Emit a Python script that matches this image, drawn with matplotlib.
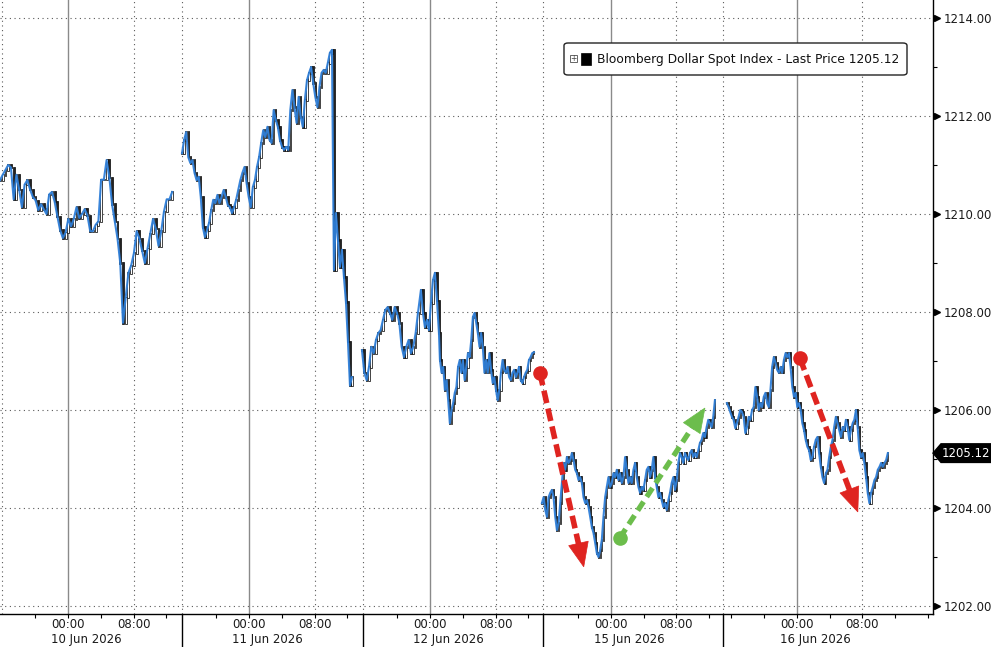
import numpy as np
import matplotlib
matplotlib.use("Agg")
import matplotlib.pyplot as plt
from matplotlib.patches import FancyBboxPatch, Rectangle, Polygon

plt.rcParams['font.family'] = ['DejaVu Sans']

# ---------------- data ----------------
# x axis: chart time in hours (trading time, gaps removed)
day_labels = ["10 Jun 2026", "11 Jun 2026", "12 Jun 2026", "15 Jun 2026", "16 Jun 2026"]
day_bounds = [0.2, 22.2, 44.27, 66.22, 88.17, 113.8]       # session separators
midnights = [8.29, 30.37, 52.44, 74.51, 97.2]              # 00:00 of each day

# price pieces: (start hour, end hour, prices)  -- equally spaced bars within a piece
p10 = [1210.69, 1210.80, 1210.90, 1211.00, 1210.95, 1210.30, 1210.80, 1210.50, 1210.14, 1210.60,
       1210.69, 1210.50, 1210.35, 1210.28, 1210.08, 1210.20, 1210.10, 1210.00, 1210.40, 1210.45,
       1210.25, 1209.95, 1209.67, 1209.51, 1209.62, 1209.90, 1209.75, 1209.90, 1210.14, 1209.92,
       1210.00, 1210.10, 1209.97, 1209.65, 1209.65, 1209.78, 1209.85, 1210.70, 1210.70, 1211.10,
       1210.75, 1210.20, 1209.85, 1209.50, 1209.00, 1207.78, 1208.30, 1208.80, 1208.95, 1209.20,
       1209.65, 1209.50, 1209.25, 1209.00, 1209.30, 1209.60, 1209.90, 1209.70, 1209.35, 1209.65,
       1210.05, 1210.30, 1210.30, 1210.45]
p11a = [1211.24, 1211.51, 1211.67, 1211.16, 1211.04, 1211.10, 1210.84, 1210.69, 1210.76, 1210.35,
        1209.73, 1209.53, 1209.67, 1209.82, 1210.08, 1210.29, 1210.22, 1210.39, 1210.22, 1210.35,
        1210.49, 1210.35, 1210.18, 1210.14, 1210.02, 1210.14, 1210.29, 1210.49, 1210.69, 1210.84,
        1210.96, 1210.63, 1210.35, 1210.14, 1210.55, 1210.69, 1210.96, 1211.16, 1211.45, 1211.71,
        1211.57, 1211.78, 1211.51, 1211.45, 1212.12, 1211.92, 1211.78, 1211.51, 1211.37, 1211.31,
        1211.37, 1211.31, 1212.12, 1212.53, 1212.18, 1211.86, 1212.39, 1211.98, 1211.78, 1212.33,
        1212.73, 1212.88, 1213.00, 1212.67, 1212.39, 1212.18, 1212.59, 1212.88, 1212.94, 1212.88,
        1213.08, 1213.29, 1213.35]
p11b = [1208.86, 1210.02, 1209.47, 1208.92, 1209.27, 1208.71, 1208.20, 1207.40, 1206.50, 1206.67]
p12a = [1207.22, 1206.76, 1206.61, 1206.88, 1207.29, 1207.16, 1207.43, 1207.57, 1207.63, 1207.84,
        1208.04, 1208.10, 1207.98, 1207.84, 1208.10, 1207.98, 1207.78, 1207.29, 1207.08, 1207.29,
        1207.43, 1207.16, 1207.29, 1207.57, 1207.98]
p12b = [1208.45, 1207.98, 1207.69, 1207.84, 1207.63, 1208.18, 1208.65, 1208.80, 1208.24, 1207.57]
p12c = [1207.02, 1206.76, 1206.88, 1206.41, 1206.61, 1206.20, 1205.73, 1206.00, 1206.14, 1206.35,
        1206.47, 1206.88, 1207.02, 1206.76, 1207.02, 1206.61, 1206.88, 1207.16, 1207.08, 1207.43,
        1207.90, 1207.98, 1207.78, 1207.57, 1207.29, 1207.57, 1207.29, 1206.76, 1207.02, 1206.76,
        1207.16, 1206.82, 1206.55, 1206.67, 1206.41, 1206.20, 1206.41, 1206.76, 1207.02, 1206.82,
        1206.76, 1206.88, 1206.67, 1206.61, 1206.76, 1206.82, 1206.67, 1206.76, 1206.88, 1206.61,
        1206.55, 1206.67, 1206.76, 1206.82, 1207.02, 1207.08, 1207.16, 1207.18]
p15 = [1204.10, 1204.22, 1203.96, 1203.82, 1204.22, 1204.31, 1204.37, 1204.22, 1203.82, 1203.55,
       1203.69, 1204.10, 1204.51, 1204.92, 1204.78, 1205.04, 1204.92, 1204.98, 1205.12, 1204.98,
       1204.78, 1204.71, 1204.57, 1204.63, 1204.51, 1204.22, 1204.10, 1204.16, 1204.02, 1203.82,
       1203.61, 1203.49, 1203.29, 1203.08, 1203.00, 1203.14, 1203.35, 1203.82, 1204.22, 1204.43,
       1204.63, 1204.43, 1204.51, 1204.71, 1204.63, 1204.78, 1204.57, 1204.71, 1204.51, 1204.63,
       1205.04, 1204.78, 1204.51, 1204.63, 1204.51, 1204.78, 1204.92, 1204.63, 1204.43, 1204.31,
       1204.43, 1204.37, 1204.57, 1204.78, 1204.84, 1204.63, 1204.78, 1205.04, 1204.63, 1204.43,
       1204.22, 1204.31, 1204.16, 1204.02, 1204.10, 1203.96, 1204.16, 1204.31, 1204.51, 1204.63,
       1204.37, 1204.57, 1204.92, 1205.12, 1205.04, 1204.92, 1205.12, 1205.04, 1204.98, 1205.12,
       1205.18, 1205.04, 1205.12, 1205.04, 1205.18, 1205.33, 1205.39, 1205.53, 1205.45, 1205.65,
       1205.80, 1205.73, 1205.65, 1205.86, 1206.20]
p16 = [1206.14, 1206.06, 1205.96, 1205.86, 1205.80, 1205.63, 1205.73, 1205.86, 1206.00, 1205.96,
       1205.86, 1205.53, 1205.65, 1205.86, 1205.80, 1206.00, 1206.06, 1206.47, 1206.27, 1206.00,
       1206.14, 1206.06, 1206.27, 1206.35, 1206.14, 1206.06, 1206.41, 1206.88, 1207.08, 1206.96,
       1206.82, 1206.76, 1206.88, 1206.76, 1207.02, 1207.16, 1207.08, 1207.16, 1206.88, 1206.47,
       1206.27, 1206.35, 1206.06, 1206.14, 1206.00, 1205.73, 1205.59, 1205.39, 1205.25, 1205.18,
       1204.98, 1205.04, 1205.25, 1205.39, 1205.45, 1205.12, 1204.84, 1204.63, 1204.51, 1204.71,
       1204.78, 1205.04, 1205.25, 1205.39, 1205.65, 1205.86, 1205.73, 1205.59, 1205.45, 1205.65,
       1205.59, 1205.80, 1205.65, 1205.39, 1205.59, 1205.73, 1205.80, 1206.00, 1205.65, 1205.18,
       1205.04, 1205.12, 1204.92, 1204.63, 1204.31, 1204.10, 1204.31, 1204.43, 1204.57, 1204.63,
       1204.78, 1204.84, 1204.92, 1204.84, 1204.92, 1204.98, 1205.12]

sessions = [
    [(0.0, 21.0, p10)],
    [(22.20, 40.49, p11a), (40.73, 42.93, p11b)],
    [(44.15, 50.98, p12a), (51.34, 53.54, p12b), (53.66, 65.12, p12c)],
    [(66.10, 87.20, p15)],
    [(88.66, 108.29, p16)],
]
last_price = 1205.12
y_ticks = [1202, 1204, 1206, 1208, 1210, 1212, 1214]

# annotation arrows: (start, tip) in (hour, price)
red1 = ((65.85, 1206.76), (71.2, 1202.80))
green1 = ((75.6, 1203.39), (85.98, 1206.04))
red2 = ((97.56, 1207.06), (104.63, 1203.92))

# ---------------- figure ----------------
W, H = 991, 647
fig = plt.figure(figsize=(W / 100, H / 100), dpi=100)
ax = fig.add_axes([0, 33 / H, 933 / W, 614 / H])
ax.set_xlim(0, 113.8)
ax.set_ylim(1201.837, 1214.367)

BLUE = '#2f7fd8'
grid_kw = dict(color='#5a5a5a', lw=0.8, ls=(0, (1, 3.2)), zorder=1)
for y in y_ticks:
    ax.axhline(y, **grid_kw)
for m in midnights:
    ax.axvline(m, color='#8a8a8a', lw=1.0, zorder=1)
    ax.axvline(m + 8, **grid_kw)
for b in day_bounds[:-1]:
    ax.axvline(b, **grid_kw)

# price series: candles derived from consecutive bars + blue line
for pieces in sessions:
    ts, ps, dts = [], [], []
    for (t0, t1, pr) in pieces:
        t = np.linspace(t0, t1, len(pr))
        ts.append(t)
        ps.append(np.asarray(pr, float))
        dts.append(np.full(len(pr), (t1 - t0) / (len(pr) - 1)))
    t = np.concatenate(ts)
    p = np.concatenate(ps)
    dt = np.concatenate(dts)
    o = np.r_[p[0], p[:-1]]
    c = p
    up = c >= o
    w = dt * 0.7
    ax.bar(t[up], (c - o)[up] + 0.03, bottom=o[up] - 0.015, width=w[up], color='white',
           edgecolor='#111111', linewidth=0.55, zorder=3)
    ax.bar(t[~up], (o - c)[~up] + 0.03, bottom=c[~up] - 0.015, width=w[~up], color='#222222',
           edgecolor='#111111', linewidth=0.55, zorder=3)
    ax.plot(t, p, color=BLUE, lw=1.5, zorder=4, solid_joinstyle='round', alpha=0.95)

# spines
for s in ['top', 'left']:
    ax.spines[s].set_visible(False)
for s in ['bottom', 'right']:
    ax.spines[s].set_color('black')
    ax.spines[s].set_linewidth(1.0)

# y axis on right
ax.yaxis.tick_right()
ax.set_yticks(y_ticks)
ax.set_yticklabels([f"{v:.2f}" for v in y_ticks])
ax.set_yticks([v + 1 for v in y_ticks[:-1]], minor=True)
ax.tick_params(axis='y', which='major', length=0, pad=8, labelsize=8.5, labelcolor='#1a1a1a')
ax.tick_params(axis='y', which='minor', length=3, width=0.8, direction='out', color='black')
ax.plot([1 + 4 / 933] * len(y_ticks), y_ticks, transform=ax.get_yaxis_transform(),
        ls='none', marker='>', ms=5, color='black', clip_on=False, zorder=6)

# x axis
ax.set_xticks([])
minor_x = []
for i, m in enumerate(midnights):
    lo, hi = day_bounds[i], day_bounds[i + 1]
    k = -6
    while m + 4 * k < hi:
        tt = m + 4 * k
        if tt > lo + 0.5:
            minor_x.append(tt)
        k += 1
ax.set_xticks(minor_x, minor=True)
ax.tick_params(axis='x', which='minor', length=3, width=0.8, direction='out', color='black')
xt = ax.get_xaxis_transform()
for m, lab in zip(midnights, day_labels):
    ax.text(m, -10.5 / 614, "00:00", transform=xt, ha='center', va='center', fontsize=8.5, color='#1a1a1a')
    ax.text(m + 8, -10.5 / 614, "08:00", transform=xt, ha='center', va='center', fontsize=8.5, color='#1a1a1a')
    ax.text(m - 2.07, -26 / 614, lab, transform=xt, ha='left', va='center', fontsize=8.5, color='#1a1a1a')
for b in day_bounds[1:-1]:
    ax.plot([b, b], [0, -34 / 614], transform=xt, color='black', lw=1.0, clip_on=False)

# last price tag
yt = ax.get_yaxis_transform()
hh = 0.19
tag = Polygon([(1.0, last_price), (1 + 8 / 933, last_price + hh), (1 + 60 / 933, last_price + hh),
               (1 + 60 / 933, last_price - hh), (1 + 8 / 933, last_price - hh)],
              closed=True, transform=yt, fc='black', ec='black', clip_on=False, zorder=7)
ax.add_patch(tag)
ax.text(1 + 9 / 933, last_price, f"{last_price:.2f}", transform=yt, color='white',
        fontsize=8.5, ha='left', va='center', zorder=8, clip_on=False)


# arrows
def dashed_arrow(start, tip, color, dashes, lw):
    p0 = ax.transData.transform(start)
    p1 = ax.transData.transform(tip)
    d = (p1 - p0) / np.hypot(*(p1 - p0))
    n = np.array([-d[1], d[0]])
    head_len, head_half = 24, 10
    base = p1 - d * head_len
    inv = ax.transData.inverted()
    b_data = inv.transform(base + d * 2)
    ax.plot([start[0], b_data[0]], [start[1], b_data[1]], color=color, lw=lw,
            dashes=dashes, dash_capstyle='butt', zorder=9)
    ax.plot([start[0]], [start[1]], marker='o', ms=9.5, color=color, zorder=9)
    head = inv.transform(np.array([p1, base + n * head_half, base - n * head_half]))
    ax.add_patch(Polygon(head, closed=True, fc=color, ec=color, lw=0.5, zorder=9))


dashed_arrow(*red1, color='#df2420', dashes=(2.3, 1.0), lw=4.0)
dashed_arrow(*red2, color='#df2420', dashes=(2.3, 1.0), lw=4.0)
dashed_arrow(*green1, color='#6cbd4c', dashes=(2.0, 1.1), lw=3.8)

# legend box
leg = FancyBboxPatch((564 / W, 1 - 75 / H), (907 - 564) / W, 32 / H,
                     boxstyle='round,pad=0,rounding_size=0.004', transform=fig.transFigure,
                     fc='white', ec='#222222', lw=1.0, zorder=20)
fig.add_artist(leg)
fig.add_artist(Rectangle((570 / W, 1 - 62 / H), 7 / W, 7 / H, transform=fig.transFigure,
                         fc='white', ec='#666666', lw=0.7, zorder=21))
fig.text(573.5 / W, 1 - 58.5 / H, "+", fontsize=5.5, color='#444444', ha='center', va='center', zorder=22)
fig.add_artist(Rectangle((581 / W, 1 - 65 / H), 10 / W, 12 / H, transform=fig.transFigure,
                         fc='black', ec='black', lw=0.5, zorder=21))
fig.text(597 / W, 1 - 59 / H, "Bloomberg Dollar Spot Index - Last Price 1205.12", fontsize=8.8,
         color='#111111', ha='left', va='center', zorder=22)

fig.savefig("out.png", dpi=100)
